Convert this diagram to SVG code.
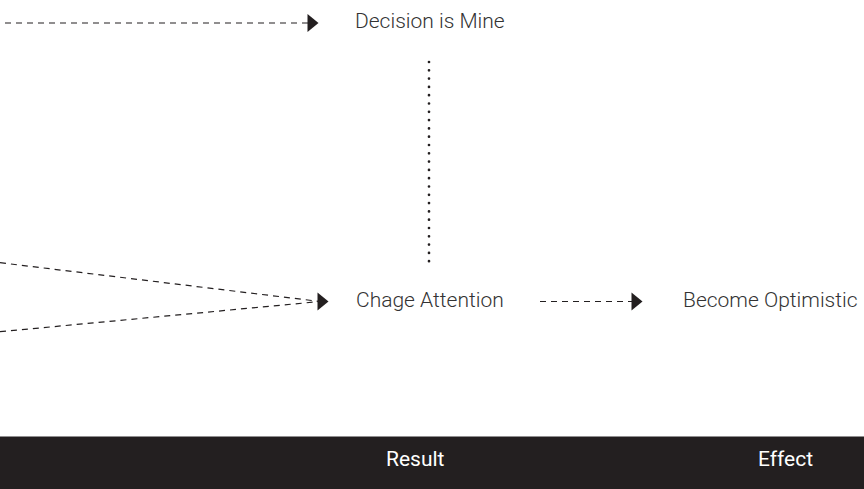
<svg xmlns="http://www.w3.org/2000/svg" width="864" height="489" viewBox="0 0 864 489">
<style>
.lbl{font-family:Roboto,"Liberation Sans",sans-serif;font-weight:300;font-size:21px;fill:#333333}
.hdr{font-family:Roboto,"Liberation Sans",sans-serif;font-weight:400;font-size:21px;fill:#ffffff}
.dash{stroke:#231f20;stroke-width:1.2;fill:none;stroke-dasharray:6 5}
.dot{stroke:#231f20;stroke-width:2.7;fill:none;stroke-dasharray:0 8.3;stroke-linecap:round}
.head{fill:#231f20}
</style>
<rect width="864" height="489" fill="#ffffff"/>
<g id="connectors">
<line class="dash" x1="5" y1="23" x2="310" y2="23"/>
<polygon class="head" points="307.5,14 318.5,23 307.5,32"/>
<line class="dash" x1="0" y1="262.7" x2="320" y2="301.5"/>
<line class="dash" x1="0" y1="331.7" x2="320" y2="301.5"/>
<polygon class="head" points="317.5,292.5 328.5,301.5 317.5,310.5"/>
<line class="dash" x1="540" y1="301.5" x2="634" y2="301.5"/>
<polygon class="head" points="631.5,292.5 642.5,301.5 631.5,310.5"/>
<line class="dot" x1="429" y1="62" x2="429" y2="262"/>
</g>
<g id="node-decision"><text class="lbl" x="355" y="28.3">Decision is Mine</text></g>
<g id="node-attention"><text class="lbl" x="356" y="306.7">Chage Attention</text></g>
<g id="node-optimistic"><text class="lbl" x="683" y="306.7">Become Optimistic</text></g>
<g id="header-band">
<rect x="0" y="436.5" width="864" height="52.5" fill="#231f20"/>
<text class="hdr" x="386" y="465.7">Result</text>
<text class="hdr" x="758" y="465.7">Effect</text>
</g>
</svg>
